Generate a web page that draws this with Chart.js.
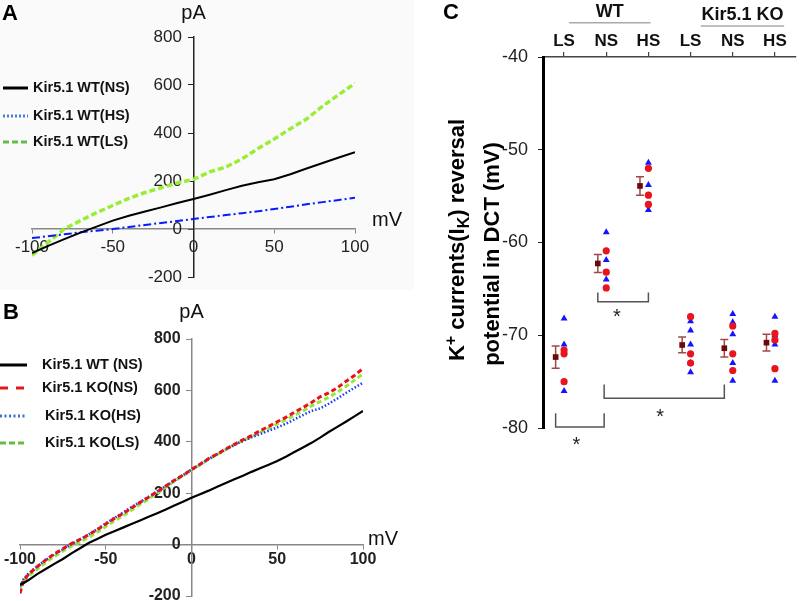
<!DOCTYPE html>
<html>
<head>
<meta charset="utf-8">
<script src="https://cdn.jsdelivr.net/npm/chart.js@4.4.1/dist/chart.umd.min.js"></script>
<style>
  html, body { margin: 0; padding: 0; background: #fff; }
  #wrap { position: relative; width: 800px; height: 601px; overflow: hidden; font-family: "Liberation Sans", Arial, sans-serif; }
  canvas { position: absolute; }
  .letter { position: absolute; font-weight: bold; font-size: 22px; line-height: 22px; color: #000; }
</style>
</head>
<body>
<div id="wrap">
  <canvas id="chartA" width="414" height="290" style="left:0;top:0"></canvas>
  <canvas id="chartB" width="414" height="311" style="left:0;top:290px"></canvas>
  <canvas id="chartC" width="380" height="601" style="left:420px;top:0"></canvas>
  <div class="letter" style="left:2px;top:2px">A</div>
  <div class="letter" style="left:3px;top:301px">B</div>
  <div class="letter" style="left:443px;top:1px">C</div>
</div>
<script>
Chart.defaults.font.family = '"Liberation Sans", Arial, sans-serif';
Chart.defaults.color = '#222';

// ———————————————————
//  Panel A: I-V curves, WT on LS / NS / HS diet
// ———————————————————
const mvA = [-100, -90, -80, -70, -60, -50, -40, -30, -20, -10, 0, 10, 20, 30, 40, 50, 60, 70, 80, 90, 100];
const wtNsA = [-100, -70, -42, -15, 10, 35, 55, 73, 90, 108, 125, 143, 162, 180, 195, 207, 228, 252, 275, 298, 320];
const wtHsA = [-38, -30, -22, -14, -7, 0, 8, 17, 25, 33, 42, 50, 58, 66, 74, 83, 93, 103, 112, 121, 130];
const wtLsA = [-110, -55, 0, 35, 68, 98, 128, 152, 172, 192, 207, 238, 258, 292, 335, 375, 418, 458, 512, 560, 607];

// ———————————————————
//  Panel B: I-V curves, WT (NS) vs Kir5.1 KO
// ———————————————————
const mvB = [-100, -98, -95, -90, -85, -80, -75, -70, -65, -60, -55, -50, -45, -40, -35, -30, -25, -20, -15, -10, -5,
             0, 5, 10, 15, 20, 25, 30, 35, 40, 45, 50, 55, 60, 65, 70, 75, 80, 85, 90, 95, 100];
const wtNsB = [-155, -150, -138, -115, -95, -75, -56, -34, -14, 6, 22, 38, 52, 66, 80, 94, 108, 122, 137, 152, 167,
               182, 196, 210, 225, 240, 254, 268, 283, 297, 311, 325, 342, 360, 378, 396, 416, 438, 458, 478, 499, 520];
const koNsB = [-190, -140, -115, -86, -60, -36, -16, 4, 20, 38, 58, 80, 102, 120, 142, 164, 184, 206, 228, 250, 270,
               292, 313, 335, 352, 372, 390, 408, 424, 443, 460, 478, 495, 515, 533, 553, 575, 590, 610, 635, 658, 685];
const koHsB = [-162, -135, -112, -85, -60, -38, -18, 2, 20, 40, 60, 82, 104, 124, 146, 166, 186, 207, 228, 249, 270,
               292, 312, 333, 352, 370, 388, 403, 417, 430, 443, 456, 470, 487, 504, 520, 530, 548, 568, 590, 610, 630];
const koLsB = [-170, -145, -122, -95, -70, -46, -25, -6, 10, 28, 48, 70, 92, 112, 134, 156, 178, 200, 224, 246, 268,
               290, 310, 332, 351, 370, 389, 405, 420, 437, 452, 470, 485, 503, 520, 540, 556, 573, 593, 615, 640, 664];

// ———————————————————
//  Panel C: reversal potential per group
// ———————————————————
const condLabels = ['LS', 'NS', 'HS', 'LS', 'NS', 'HS'];
const meanVals = [-72.35, -62.26, -53.9, -71.05, -71.4, -70.8];
const semVals = [1.2, 0.97, 1.0, 0.85, 0.95, 0.9];
const circleVals = [
  [-71.6, -72.0, -75.0],
  [-60.9, -63.2, -64.9],
  [-52.0, -54.9, -55.9],
  [-68.0, -72.0, -73.0],
  [-69.0, -72.0, -73.8],
  [-69.8, -70.5, -73.6]
];
const triangleVals = [
  [-68.2, -71.0, -76.0],
  [-58.9, -61.9, -64.0],
  [-51.4, -53.8, -56.5],
  [-68.5, -69.5, -71.0, -73.0, -74.0],
  [-67.7, -68.6, -69.9, -73.0, -74.9],
  [-68.0, -70.0, -70.5, -71.0, -74.9]
];
// significance brackets, in axis units
const sigBrackets = [
  { x1: 0.8, x2: 1.95, yLeg: -78.4, yBar: -79.9, sx: 1.29, sy: -81.3 },
  { x1: 1.8, x2: 3.0, yLeg: -65.4, yBar: -66.4, sx: 2.25, sy: -67.5 },
  { x1: 1.95, x2: 4.8, yLeg: -75.3, yBar: -76.8, sx: 3.28, sy: -78.3 }
];
const meanOffset = -0.2;

const toXY = (xs, ys) => xs.map((x, i) => ({ x, y: ys[i] }));

// fondo, unidades y leyenda de los paneles I-V
const ivDecor = {
  id: 'ivDecor',
  beforeDraw(chart, args, opts) {
    if (!opts.bg) return;
    const ctx = chart.ctx;
    ctx.save();
    ctx.fillStyle = opts.bg;
    ctx.fillRect(0, 0, chart.width, chart.height);
    ctx.restore();
  },
  afterDraw(chart, args, opts) {
    const ctx = chart.ctx;
    const { x, y } = chart.scales;
    ctx.save();
    ctx.font = opts.unitFont;
    ctx.fillStyle = '#111';
    ctx.textBaseline = 'middle';
    ctx.textAlign = 'center';
    ctx.fillText('pA', x.getPixelForValue(0), opts.pAy);
    ctx.textAlign = 'left';
    ctx.fillText('mV', x.right + opts.mVdx, y.getPixelForValue(0) + opts.mVdy);

    const lg = opts.box;
    chart.data.datasets.forEach((ds, i) => {
      const ly = lg.ys[i];
      ctx.strokeStyle = ds.legendColor;
      ctx.lineWidth = 3;
      ctx.setLineDash(ds.legendDash);
      ctx.beginPath();
      ctx.moveTo(lg.x0, ly);
      ctx.lineTo(lg.x1, ly);
      ctx.stroke();
      ctx.setLineDash([]);
      ctx.font = lg.font;
      ctx.fillStyle = '#111';
      ctx.fillText(ds.label, lg.tx[i], ly);
    });
    ctx.restore();
  }
};

// el eje Y centrado en x=0 no deja hueco, se lo damos con espacios
const gap = ' \u2009\u2009';

function ivScales(o) {
  return {
    x: {
      type: 'linear', min: -100, max: 100, position: { y: 0 },
      ticks: { stepSize: 50, font: o.tickFont, color: '#222', padding: o.xPad },
      grid: { drawOnChartArea: false, tickLength: 4, color: '#888' },
      border: { color: '#888', width: 1.5 },
      afterFit: s => { s.paddingLeft = 0; s.paddingRight = 0; }
    },
    y: {
      type: 'linear', min: -200, max: 800, position: { x: 0 },
      ticks: { stepSize: 200, font: o.tickFont, color: '#222', callback: v => v + gap },
      grid: { drawOnChartArea: false, tickLength: 5, color: o.yColor },
      border: { color: o.yColor, width: 1.5 },
      afterFit: s => { s.paddingTop = 0; s.paddingBottom = 0; }
    }
  };
}

new Chart(document.getElementById('chartA'), {
  type: 'scatter',
  data: {
    datasets: [
      { label: 'Kir5.1 WT(NS)', data: toXY(mvA, wtNsA), showLine: true, pointRadius: 0,
        borderColor: '#000', borderWidth: 2, legendColor: '#000', legendDash: [] },
      { label: 'Kir5.1 WT(HS)', data: toXY(mvA, wtHsA), showLine: true, pointRadius: 0,
        borderColor: '#0a1aff', borderWidth: 2, borderDash: [8, 3, 2, 3], legendColor: '#4a7fd0', legendDash: [2, 2] },
      { label: 'Kir5.1 WT(LS)', data: toXY(mvA, wtLsA), showLine: true, pointRadius: 0,
        borderColor: '#99ee33', borderWidth: 3.5, borderDash: [6, 3], legendColor: '#66bb44', legendDash: [6, 3] }
    ]
  },
  options: {
    responsive: false, animation: false, events: [],
    layout: { padding: { left: 32, right: 59, top: 37, bottom: 13 } },
    plugins: {
      legend: { display: false }, tooltip: { enabled: false },
      ivDecor: {
        bg: '#fafafa', unitFont: '20px "Liberation Sans", Arial, sans-serif', pAy: 13, mVdx: 17, mVdy: -9,
        box: { x0: 3, x1: 28, ys: [88, 116, 142], tx: [33, 33, 33], font: 'bold 14.5px "Liberation Sans", Arial, sans-serif' }
      }
    },
    scales: ivScales({ tickFont: { size: 17 }, xPad: 4, yColor: '#222' })
  },
  plugins: [ivDecor]
});

new Chart(document.getElementById('chartB'), {
  type: 'scatter',
  data: {
    datasets: [
      { label: 'Kir5.1 WT (NS)', data: toXY(mvB, wtNsB), showLine: true, pointRadius: 0,
        borderColor: '#000', borderWidth: 2.2, legendColor: '#000', legendDash: [] },
      { label: 'Kir5.1 KO(NS)', data: toXY(mvB, koNsB), showLine: true, pointRadius: 0,
        borderColor: '#e8101c', borderWidth: 3, borderDash: [5, 3], legendColor: '#e31a1c', legendDash: [8, 8] },
      { label: 'Kir5.1 KO(HS)', data: toXY(mvB, koHsB), showLine: true, pointRadius: 0,
        borderColor: '#1a3cff', borderWidth: 2.5, borderDash: [1.5, 2], legendColor: '#3a6fd8', legendDash: [2, 2.5] },
      { label: 'Kir5.1 KO(LS)', data: toXY(mvB, koLsB), showLine: true, pointRadius: 0,
        borderColor: '#99e63a', borderWidth: 3, borderDash: [5, 3], legendColor: '#66bb44', legendDash: [6, 3] }
    ]
  },
  options: {
    responsive: false, animation: false, events: [],
    layout: { padding: { left: 20, right: 51, top: 49, bottom: 5 } },
    plugins: {
      legend: { display: false }, tooltip: { enabled: false },
      ivDecor: {
        unitFont: '20px "Liberation Sans", Arial, sans-serif', pAy: 22, mVdx: 5, mVdy: -5,
        box: { x0: 0, x1: 27, ys: [75, 98, 126, 153], tx: [42, 42, 45, 45], font: 'bold 14.5px "Liberation Sans", Arial, sans-serif' }
      }
    },
    scales: ivScales({ tickFont: { size: 16, weight: 'bold' }, xPad: 1.5, yColor: '#888' })
  },
  plugins: [ivDecor]
});

// barras de error, corchetes, encabezados y título del eje
const cDecor = {
  id: 'cDecor',
  beforeDatasetsDraw(chart) {
    const { ctx, scales: { x, y } } = chart;
    ctx.save();
    ctx.strokeStyle = '#a04848';
    ctx.lineWidth = 1.5;
    meanVals.forEach((m, i) => {
      const px = x.getPixelForValue(i + 1 + meanOffset);
      const top = y.getPixelForValue(m + semVals[i]);
      const bot = y.getPixelForValue(m - semVals[i]);
      ctx.beginPath();
      ctx.moveTo(px, top); ctx.lineTo(px, bot);
      ctx.moveTo(px - 4, top); ctx.lineTo(px + 4, top);
      ctx.moveTo(px - 4, bot); ctx.lineTo(px + 4, bot);
      ctx.stroke();
    });
    ctx.restore();
  },
  afterDraw(chart) {
    const { ctx, scales: { x, y } } = chart;
    ctx.save();
    // corchetes de significancia
    ctx.strokeStyle = '#555';
    ctx.lineWidth = 1.5;
    sigBrackets.forEach(b => {
      const x1 = x.getPixelForValue(b.x1), x2 = x.getPixelForValue(b.x2);
      const yl = y.getPixelForValue(b.yLeg), yb = y.getPixelForValue(b.yBar);
      ctx.beginPath();
      ctx.moveTo(x1, yl); ctx.lineTo(x1, yb); ctx.lineTo(x2, yb); ctx.lineTo(x2, yl);
      ctx.stroke();
      ctx.font = '20px "Liberation Sans", Arial, sans-serif';
      ctx.fillStyle = '#222';
      ctx.textAlign = 'center';
      ctx.textBaseline = 'alphabetic';
      ctx.fillText('*', x.getPixelForValue(b.sx), y.getPixelForValue(b.sy) + 11);
    });

    // grupos WT / KO
    const groups = [
      { name: 'WT', from: 1.12, to: 3.05, ty: 12, ly: 22.7 },
      { name: 'Kir5.1 KO', from: 4.24, to: 6.22, ty: 15.5, ly: 26 }
    ];
    groups.forEach(g => {
      const a = x.getPixelForValue(g.from), b = x.getPixelForValue(g.to);
      ctx.strokeStyle = '#aaa';
      ctx.lineWidth = 1.5;
      ctx.beginPath(); ctx.moveTo(a, g.ly); ctx.lineTo(b, g.ly); ctx.stroke();
      ctx.font = 'bold 18px "Liberation Sans", Arial, sans-serif';
      ctx.fillStyle = '#111';
      ctx.textAlign = 'center';
      ctx.textBaseline = 'middle';
      ctx.fillText(g.name, (a + b) / 2, g.ty);
    });

    // título del eje Y con super/subíndices
    const big = 'bold 22px "Liberation Sans", Arial, sans-serif';
    const small = 'bold 16px "Liberation Sans", Arial, sans-serif';
    const line1 = [
      { t: 'K', f: big, dy: 0 }, { t: '+', f: small, dy: -8 },
      { t: ' currents(I', f: big, dy: 0 }, { t: 'K', f: small, dy: 5 },
      { t: ') reversal', f: big, dy: 0 }
    ];
    const line2 = [{ t: 'potential in DCT (mV)', f: big, dy: 0 }];
    const drawRuns = (runs, bx, cy) => {
      let w = 0;
      runs.forEach(r => { ctx.font = r.f; w += ctx.measureText(r.t).width; });
      ctx.save();
      ctx.translate(bx, cy);
      ctx.rotate(-Math.PI / 2);
      ctx.textAlign = 'left';
      ctx.textBaseline = 'alphabetic';
      ctx.fillStyle = '#000';
      let cx = -w / 2;
      runs.forEach(r => {
        ctx.font = r.f;
        ctx.fillText(r.t, cx, r.dy);
        cx += ctx.measureText(r.t).width;
      });
      ctx.restore();
    };
    drawRuns(line1, 44, 240);
    drawRuns(line2, 79, 254);
    ctx.restore();
  }
};

new Chart(document.getElementById('chartC'), {
  type: 'scatter',
  data: {
    datasets: [
      { label: 'mean', order: 0,
        data: meanVals.map((v, i) => ({ x: i + 1 + meanOffset, y: v })),
        pointStyle: 'rect', pointRadius: 4, backgroundColor: '#6b0a0a', borderColor: '#6b0a0a', borderWidth: 0 },
      { label: 'circles', order: 1,
        data: circleVals.flatMap((arr, i) => arr.map(v => ({ x: i + 1, y: v }))),
        pointStyle: 'circle', pointRadius: 3.6, backgroundColor: '#e8141e', borderColor: '#e8141e', borderWidth: 0 },
      { label: 'triangles', order: 2,
        data: triangleVals.flatMap((arr, i) => arr.map(v => ({ x: i + 1, y: v }))),
        pointStyle: 'triangle', pointRadius: 4, backgroundColor: '#1414ff', borderColor: '#1414ff', borderWidth: 0 }
    ]
  },
  options: {
    responsive: false, animation: false, events: [],
    layout: { padding: { left: 0, right: 0, top: 0, bottom: 173 } },
    plugins: { legend: { display: false }, tooltip: { enabled: false } },
    scales: {
      x: {
        type: 'linear', position: 'top', min: 0.5, max: 6.5,
        afterBuildTicks: s => { s.ticks = condLabels.map((_, i) => ({ value: i + 1 })); },
        afterFit: s => { s.height = 57; s.paddingLeft = 0; s.paddingRight = 0; },
        ticks: { callback: (v, i) => condLabels[i], font: { size: 17, weight: 'bold' }, color: '#111',
                 padding: 0, autoSkip: false, maxRotation: 0 },
        grid: { drawOnChartArea: false, tickLength: 5, color: '#444', lineWidth: 1.2 },
        border: { color: '#444', width: 1.5 }
      },
      y: {
        type: 'linear', min: -80, max: -40,
        afterFit: s => { s.width = 123; s.paddingTop = 0; s.paddingBottom = 0; },
        ticks: { stepSize: 10, font: { size: 18 }, color: '#222', padding: 10 },
        grid: { drawOnChartArea: false, tickLength: 5, color: '#222' },
        border: { color: '#000', width: 3 }
      }
    }
  },
  plugins: [cDecor]
});
</script>
</body>
</html>
